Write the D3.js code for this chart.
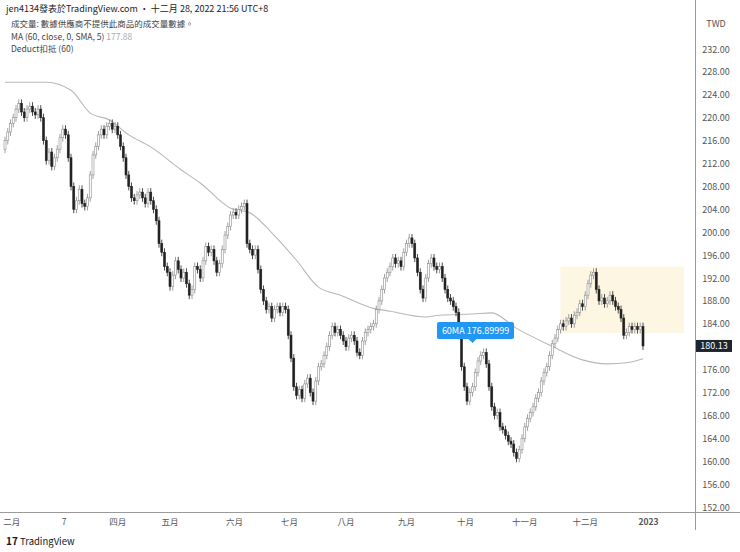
<!DOCTYPE html>
<html><head><meta charset="utf-8">
<script src="https://cdn.jsdelivr.net/npm/d3@7"></script>
<style>
body{margin:0;background:#fff;font-family:"Noto Sans CJK TC","Noto Sans",sans-serif;}
</style></head><body>
<svg id="chart" width="740" height="552"></svg>
<script>
// closing prices, one per trading day
var closes = [
216,217.5,219,220,221.5,222.5,221,220,221.5,222,
221,220.5,221.5,220,216,212.5,214,211.5,213,214.5,
216.5,218,217,213,208,204,205.5,207.5,205,204.5,
206,210,213.5,215,217,218,217,218.5,219,218,
218.5,217,215,213,210,208,206,205.5,206.5,207,
206,205,207,205.5,204,202,198,196.5,194,193,
190.5,192.5,195,193.5,192,193,191,189,190,194,
193.5,192,195,197.5,196.5,197,195,193,194.5,197,
199.5,201,203,203.5,203,204,204.5,205,198,197,
196,197,193.5,190,188,186.5,187,185,186.5,187,
186,187,186.5,182,178,173,171.5,172.5,171,173.5,
174.5,172,170.5,174,176.5,177,178.5,180,182,183.5,
182.5,183,182,181,180,181.5,182,181,179,178.5,
181,182.5,183,183.5,184,186.5,188,190,192,193,
194,195.5,194.5,195,194,196.5,198,199,198,195.5,
193,190,188.5,192,194.5,195.5,194,193.5,194,192,
190,188.5,188,187,186,182,176.5,173,170.5,172,
173,175.5,177.5,178.5,179,177,173,169.5,168,168.5,
166,165.5,164.5,163.5,163,161.5,160.5,162,164,166,
167.5,168.5,169.5,171,172,174,175.5,176.5,178.5,180.5,
181.5,183,184,183.5,184.5,185,184,185.5,186,187.5,
187,189,191,192.5,193,190,188,188.5,187.5,188,
189,188,187,186.5,185,182,182.5,183.5,183,183.5,
183,183.5,180.13
];
var firstOpen = 214.5;
// 60-day MA sampled along the chart: [bar index, value]
var maIdx = [0,15,24,31,38,45,53,64,71,82,89,97,106,114,122,134,140,153,158,170,177,186,198,210,219,226,232];
var maVal = [226.2,226.2,224.8,220.8,219.6,217,214.9,210.9,208.6,204.2,203.4,199.9,195.1,190.4,189,186.7,186.2,185.2,185.5,185.7,185.9,183.2,180.3,177.7,177,177.2,177.9];
var priceTicks = [152,156,160,164,168,172,176,184,188,192,196,200,204,208,212,216,220,224,228,232];
var monthLabels = ["二月","7","四月","五月","六月","七月","八月","九月","十月","十一月","十二月","2023"];
var monthIdx = [2.5,21.5,41,60,83.5,103.5,124,146,167.5,189,211,234];

var svg = d3.select("#chart");
var x = d3.scaleLinear().domain([0, 232]).range([5, 643]);
var y = d3.scaleLinear().domain([152, 232]).range([507, 49]);

// highlight box
svg.append("rect").attr("x", x(202)).attr("width", 684 - x(202))
  .attr("y", y(194)).attr("height", y(182.4) - y(194)).attr("fill", "#fdf6e3");

// MA line
svg.append("path").datum(maIdx.map(function (d, i) { return [d, maVal[i]]; }))
  .attr("fill", "none").attr("stroke", "#b8b8b8").attr("stroke-width", 1.1)
  .attr("d", d3.line().x(function (d) { return x(d[0]); }).y(function (d) { return y(d[1]); }).curve(d3.curveMonotoneX));

// candles
var bars = closes.map(function (c, i) {
  var o = i === 0 ? firstOpen : closes[i - 1];
  return {i: i, o: o, c: c, h: Math.max(o, c) + 0.7, l: Math.min(o, c) - 0.7};
});
var g = svg.append("g");
bars.forEach(function (d) {
  var up = d.c >= d.o;
  var col = up ? "#8a8a8a" : "#222";
  g.append("line").attr("x1", x(d.i)).attr("x2", x(d.i))
    .attr("y1", y(d.h)).attr("y2", y(d.l)).attr("stroke", col).attr("stroke-width", 0.8);
  var top = y(Math.max(d.o, d.c)), bot = y(Math.min(d.o, d.c));
  g.append("rect").attr("x", x(d.i) - 1).attr("width", 2)
    .attr("y", top).attr("height", Math.max(1, bot - top))
    .attr("fill", up ? "#fff" : "#222").attr("stroke", col).attr("stroke-width", 0.6);
});

// axes frame
svg.append("line").attr("x1", 695.5).attr("x2", 695.5).attr("y1", 0).attr("y2", 530).attr("stroke", "#9a9a9a");
svg.append("line").attr("x1", 0).attr("x2", 740).attr("y1", 512.5).attr("y2", 512.5).attr("stroke", "#9a9a9a");

var yAxis = svg.append("g");
priceTicks.forEach(function (p) {
  yAxis.append("text").attr("x", 716).attr("y", y(p) + 3.5).attr("text-anchor", "middle")
    .attr("font-size", 9).attr("fill", "#555").text(p.toFixed(2));
});
svg.append("text").attr("x", 716).attr("y", 27).attr("text-anchor", "middle").attr("font-size", 9).attr("fill", "#555").text("TWD");

// last price tag
var last = closes[closes.length - 1];
svg.append("rect").attr("x", 696).attr("y", y(last) - 6).attr("width", 36).attr("height", 12).attr("fill", "#20242e");
svg.append("text").attr("x", 714).attr("y", y(last) + 3.5).attr("text-anchor", "middle").attr("font-size", 9).attr("fill", "#fff").text(last.toFixed(2));

// month labels
monthLabels.forEach(function (m, i) {
  svg.append("text").attr("x", x(monthIdx[i])).attr("y", 525).attr("text-anchor", "middle")
    .attr("font-size", 8.5).attr("fill", "#555").attr("font-weight", m === "2023" ? "bold" : "normal").text(m);
});

// 60MA callout
var cx = x(170);
var cg = svg.append("g");
cg.append("rect").attr("x", 437).attr("y", 322).attr("width", 77).attr("height", 17).attr("rx", 2).attr("fill", "#2196f3");
cg.append("path").attr("d", "M" + (cx - 4) + ",339L" + cx + ",343L" + (cx + 4) + ",339Z").attr("fill", "#2196f3");
cg.append("text").attr("x", 475.5).attr("y", 334).attr("text-anchor", "middle").attr("font-size", 9).attr("fill", "#fff").text("60MA 176.89999");

// header / legend
svg.append("text").attr("x", 6).attr("y", 12).attr("font-size", 9).attr("fill", "#222").text("jen4134發表於TradingView.com • 十二月 28, 2022 21:56 UTC+8");
svg.append("text").attr("x", 11).attr("y", 27).attr("font-size", 8.5).attr("fill", "#444").text("成交量: 數據供應商不提供此商品的成交量數據。");
var ma = svg.append("text").attr("x", 11).attr("y", 40).attr("font-size", 8.5).attr("fill", "#444");
ma.append("tspan").text("MA (60, close, 0, SMA, 5)  ");
ma.append("tspan").attr("fill", "#aaa").text("177.88");
svg.append("text").attr("x", 11).attr("y", 52).attr("font-size", 8.5).attr("fill", "#444").text("Deduct扣抵 (60)");

// footer logo
svg.append("text").attr("x", 6).attr("y", 545).attr("font-size", 10).attr("font-weight", "bold").attr("fill", "#131722").text("17");
svg.append("text").attr("x", 20).attr("y", 545).attr("font-size", 9.5).attr("fill", "#131722").text("TradingView");
</script></body></html>
